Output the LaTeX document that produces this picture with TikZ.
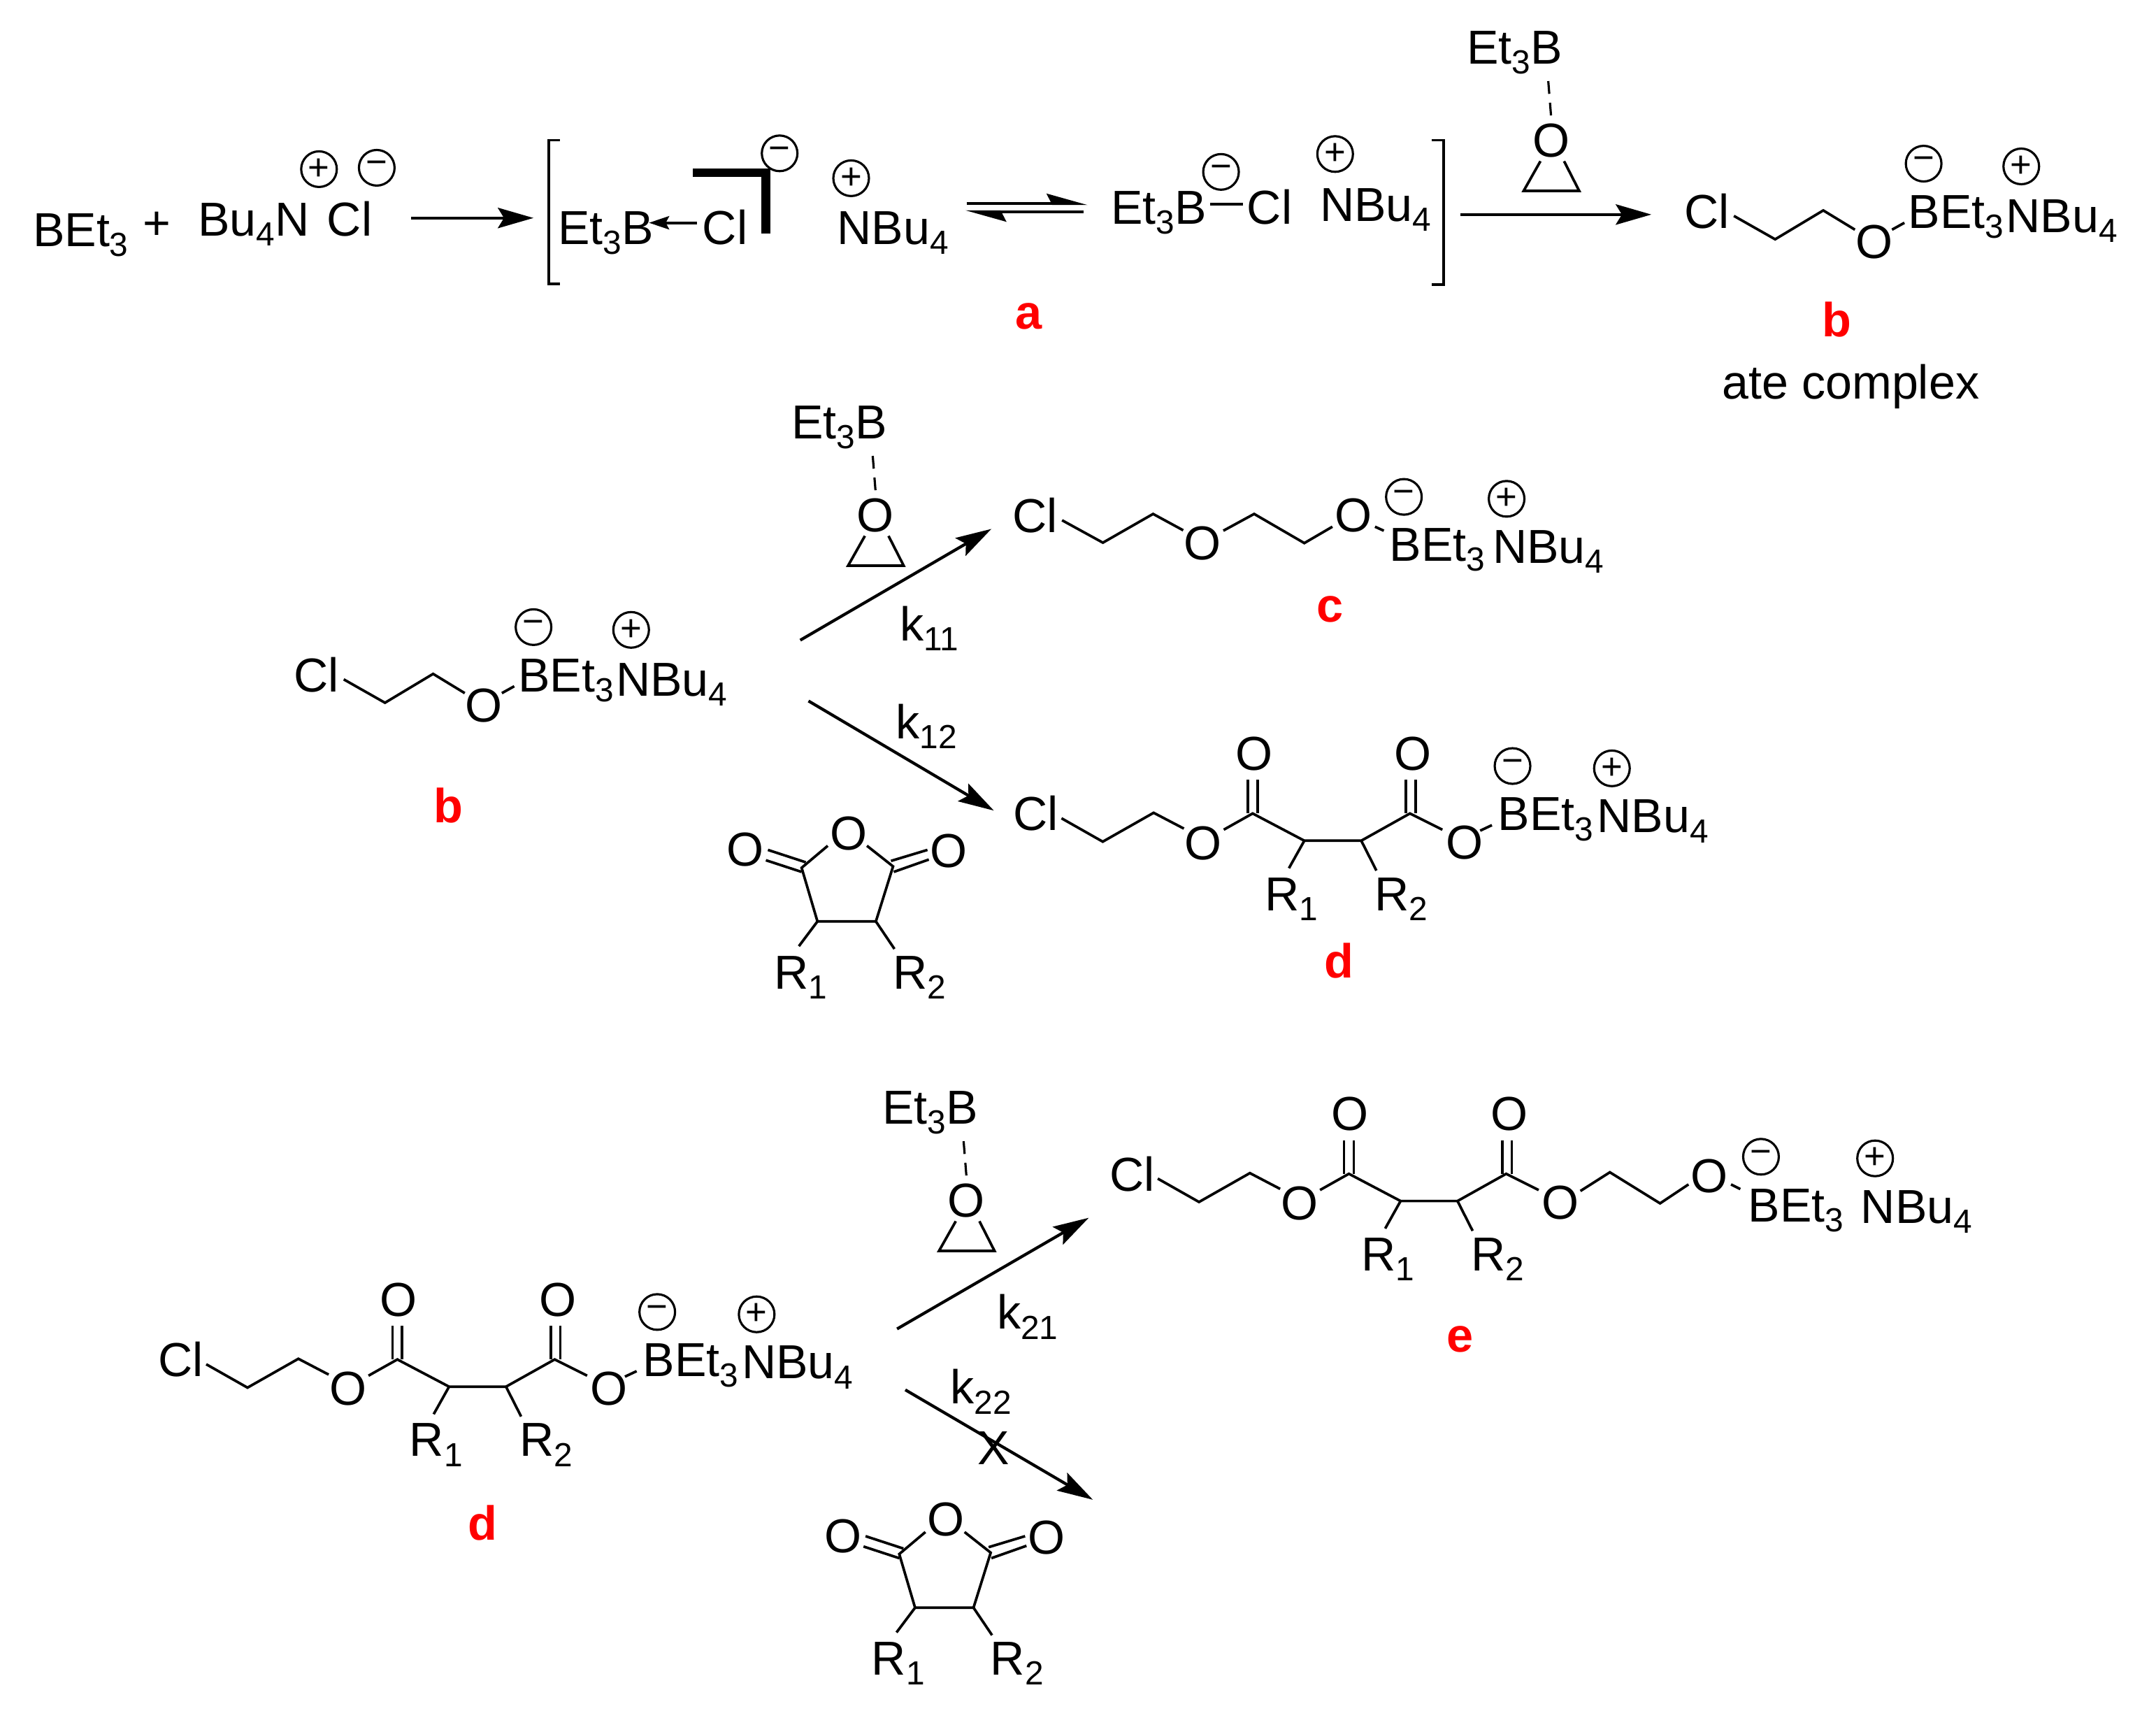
\documentclass[tikz,border=0pt]{standalone}
\usepackage{fontspec}
\setmainfont{Liberation Sans}
\usetikzlibrary{arrows.meta}
\newcommand{\dn}[1]{\raisebox{-0.21em}{\fontsize{13.6}{13.6}\selectfont #1}}
\newcommand{\cdef}[2]{\coordinate (-#1) at (#2);}
\definecolor{lblred}{RGB}{255,0,0}
\tikzset{
  txt/.style={inner sep=0pt,anchor=base west,xshift=-0.8pt,font=\fontsize{19.4}{20}\selectfont},
  oxy/.style={inner sep=0pt,anchor=center,font=\fontsize{19.4}{20}\selectfont},
  chg/.style={circle,draw,line width=0.9pt,minimum size=14.5pt,inner sep=0pt,font=\fontsize{15}{15}\selectfont},
  lbl/.style={inner sep=0pt,anchor=base,text=lblred,font=\fontsize{19.5}{20}\selectfont\bfseries},
  bond/.style={line width=1.05pt},
  rxn/.style={line width=1.2pt,-{Stealth[length=14.5pt,width=8.3pt,inset=2.5pt]}},
  pics/chlorate/.style={code={
    \node[txt] (-Cl) at (0,0) {Cl};
    \cdef{a}{35,-9}\cdef{b}{65,8}\cdef{c}{100,-13}\cdef{d}{123,1}
    \draw[bond] (-a) -- (-b) -- (-c) -- (-d);
    \node[oxy] (-O) at (137,10) {O};
    \cdef{e}{150,1}\cdef{f}{159,-4}
    \draw[bond] (-e) -- (-f);
    \node[txt] (-B) at (163,0) {BEt\dn{3}};
    \node[txt] (-N) at (234,3) {NBu\dn{4}};
    \node[chg] (-m) at (173,-47) {−};
    \node[chg] (-p) at (244,-45) {+};
  }},
  pics/epox/.style={code={
    \node[txt] (-B) at (-60,-55.5) {Et\dn{3}B};
    \node[oxy] (-O) at (0,0) {O};
    \cdef{d1}{-2,-43}\cdef{d2}{0,-18}
    \draw[line width=0.9pt,dash pattern=on 5.2pt off 3.6pt] (-d1) -- (-d2);
    \cdef{a}{-7.7,15.2}\cdef{b}{-19.9,36.8}\cdef{c}{20.5,36.8}\cdef{d}{9.5,15.2}
    \draw[bond] (-a) -- (-b) -- (-c) -- (-d);
  }},
  pics/anhyd/.style={code={
    \node[oxy] (-O) at (0,0) {O};
    \node[oxy] (-Ol) at (-75,12) {O};
    \node[oxy] (-Or) at (73,13) {O};
    \cdef{c1}{-34,25}\cdef{c2}{-22.5,64}\cdef{c3}{20,64}\cdef{c4}{32.5,24}
    \cdef{ol}{-15,9}\cdef{or}{13.5,9}
    \draw[bond] (-ol) -- (-c1) -- (-c2) -- (-c3) -- (-c4) -- (-or);
    \cdef{l1}{-58.5,12}\cdef{l2}{-31,21}\cdef{l3}{-60,19.5}\cdef{l4}{-34,28}
    \draw[bond] (-l1) -- (-l2); \draw[bond] (-l3) -- (-l4);
    \cdef{r1}{57.5,12}\cdef{r2}{31,20}\cdef{r3}{58.5,19}\cdef{r4}{33,28}
    \draw[bond] (-r1) -- (-r2); \draw[bond] (-r3) -- (-r4);
    \cdef{s1}{-36,82}\cdef{s2}{33.5,84}
    \draw[bond] (-c2) -- (-s1); \draw[bond] (-c3) -- (-s2);
    \node[txt] (-R1) at (-53,113) {R\dn{1}};
    \node[txt] (-R2) at (33.5,113) {R\dn{2}};
  }},
  pics/succ/.style={code={
    \node[txt] (-Cl) at (0,0) {Cl};
    \cdef{a}{34,-9}\cdef{b}{64,8}\cdef{c}{101,-13}\cdef{d}{123,-1.5}
    \draw[bond] (-a) -- (-b) -- (-c) -- (-d);
    \node[oxy] (-O1) at (137,9) {O};
    \cdef{e}{152,-0.7}\cdef{f}{173,-12.5}\cdef{g}{210.6,7.3}\cdef{h}{252,7.3}\cdef{i}{287.4,-12.5}\cdef{j}{311,-0.7}
    \draw[bond] (-e) -- (-f) -- (-g) -- (-h) -- (-i) -- (-j);
    \node[oxy] (-Ot1) at (174,-56) {O};
    \node[oxy] (-Ot2) at (289.5,-56) {O};
    \cdef{k1}{169.5,-37}\cdef{k2}{169.5,-12.5}\cdef{k3}{176.5,-37}\cdef{k4}{176.5,-12.5}
    \draw[bond] (-k1) -- (-k2); \draw[bond] (-k3) -- (-k4);
    \cdef{m1}{284.5,-37}\cdef{m2}{284.5,-12.5}\cdef{m3}{291.5,-37}\cdef{m4}{291.5,-12.5}
    \draw[bond] (-m1) -- (-m2); \draw[bond] (-m3) -- (-m4);
    \cdef{s1}{199.4,27.3}\cdef{s2}{263,29}
    \draw[bond] (-g) -- (-s1); \draw[bond] (-h) -- (-s2);
    \node[txt] (-R1) at (183,58) {R\dn{1}};
    \node[txt] (-R2) at (263,58) {R\dn{2}};
    \node[oxy] (-O2) at (327,8.6) {O};
  }},
  pics/dtail/.style={code={
    \cdef{a}{338.5,0}\cdef{b}{347,-4}
    \draw[bond] (-a) -- (-b);
    \node[txt] (-B) at (352.6,0) {BEt\dn{3}};
    \node[txt] (-N) at (424.6,1.5) {NBu\dn{4}};
    \node[chg] (-m) at (362,-47) {−};
    \node[chg] (-p) at (434.3,-45.3) {+};
  }},
}
\begin{document}
\begin{tikzpicture}[x=0.01967cm,y=-0.01967cm]
\useasboundingbox (0,0) rectangle (1568,1244);
% --- row 1
\node[txt] (bet) at (25,179) {BEt\dn{3}};
\node[inner sep=0pt,font=\fontsize{19.4}{20}\selectfont] (plus) at (114,164) {+};
\node[txt] (bun) at (145,171.5) {Bu\dn{4}N};
\node[txt] (cl0) at (239,171.5) {Cl};
\node[chg] (p0) at (232,123) {+};
\node[chg] (m0) at (274,122) {−};
\coordinate (a1s) at (299,158.5); \coordinate (a1e) at (388,158.5);
\draw[rxn] (a1s) -- (a1e);
\coordinate (bl1) at (407,102); \coordinate (bl2) at (399,102); \coordinate (bl3) at (399,206.5); \coordinate (bl4) at (407,206.5);
\draw[bond] (bl1) -- (bl2) -- (bl3) -- (bl4);
\node[txt] (et1) at (407,177.6) {Et\dn{3}B};
\node[txt] (cl1) at (512,177.6) {Cl};
\coordinate (d1s) at (507,162); \coordinate (d1e) at (472,162);
\draw[line width=1.1pt,-{Stealth[length=8.2pt,width=5.4pt,inset=1.4pt]}] (d1s) -- (d1e);
\coordinate (th1) at (504,125.6); \coordinate (th2) at (557,125.6); \coordinate (th3) at (557,170);
\draw[line width=3.5pt,miter limit=10] (th1) -- (th2) -- (th3);
\node[chg] (m1) at (567,111.5) {−};
\node[chg] (p1) at (619,129.6) {+};
\node[txt] (nb1) at (610,177.6) {NBu\dn{4}};
\coordinate (e1) at (703,148); \coordinate (e2) at (791,148);
\coordinate (e3) at (788,154); \coordinate (e4) at (702,154);
\draw[line width=1.2pt,-{Stealth[harpoon,length=14.5pt,width=8pt,inset=2pt]}] (e1) -- (e2);
\draw[line width=1.2pt,-{Stealth[harpoon,length=14.5pt,width=8pt,inset=2pt]}] (e3) -- (e4);
\node[txt] (et2) at (809,163) {Et\dn{3}B};
\coordinate (b2s) at (880,148.6); \coordinate (b2e) at (904,148.6);
\draw[bond] (b2s) -- (b2e);
\node[txt] (cl2) at (908,163) {Cl};
\node[chg] (m2) at (888,125) {−};
\node[chg] (p2) at (971,112) {+};
\node[txt] (nb2) at (961,161) {NBu\dn{4}};
\coordinate (br1) at (1041,102); \coordinate (br2) at (1050,102); \coordinate (br3) at (1050,207); \coordinate (br4) at (1041,207);
\draw[bond] (br1) -- (br2) -- (br3) -- (br4);
\coordinate (a2s) at (1062,156); \coordinate (a2e) at (1201,156);
\draw[rxn] (a2s) -- (a2e);
\pic (ep1) at (1128,102) {epox};
\pic (b1) at (1226,166) {chlorate};
\node[lbl] (la) at (748,239) {a};
\node[lbl] (lb1) at (1336,245) {b};
\node[inner sep=0pt,anchor=base,font=\fontsize{19.4}{20}\selectfont] (ate) at (1346,290) {ate complex};
% --- row 2
\pic (b2) at (215,503) {chlorate};
\node[lbl] (lb2) at (326,598) {b};
\pic (ep2) at (636.7,374.5) {epox};
\coordinate (k11s) at (582,465.5); \coordinate (k11e) at (721,384.6);
\draw[rxn] (k11s) -- (k11e);
\node[txt] (k11) at (655.5,466) {k\dn{11}};
\coordinate (k12s) at (588,509.7); \coordinate (k12e) at (722.8,589.4);
\draw[rxn] (k12s) -- (k12e);
\node[txt] (k12) at (652.8,537.2) {k\dn{12}};
% product c
\node[txt] (cCl) at (737.3,387.3) {Cl};
\coordinate (c1) at (772.4,378.3); \coordinate (c2) at (802.1,394.6); \coordinate (c3) at (838.6,373.7); \coordinate (c4) at (860.5,385.6);
\draw[bond] (c1) -- (c2) -- (c3) -- (c4);
\node[oxy] (cO1) at (874.5,395.2) {O};
\coordinate (c5) at (889.7,385.9); \coordinate (c6) at (912.1,373.7); \coordinate (c7) at (948.6,394.9); \coordinate (c8) at (969,383);
\draw[bond] (c5) -- (c6) -- (c7) -- (c8);
\node[oxy] (cO2) at (984.5,374.5) {O};
\coordinate (c9) at (1000,383); \coordinate (c10) at (1006.4,385.9);
\draw[bond] (c9) -- (c10);
\node[txt] (cB) at (1011.6,408.1) {BEt\dn{3}};
\node[txt] (cN) at (1086.6,409.3) {NBu\dn{4}};
\node[chg] (cm) at (1021,361.3) {−};
\node[chg] (cp) at (1095.7,362.7) {+};
\node[lbl] (lc) at (967.3,452.5) {c};
% product d (row 2)
\pic (d1) at (738,604) {succ};
\pic (d1t) at (738,604) {dtail};
\node[lbl] (ld1) at (974,711) {d};
\pic (an1) at (617,606) {anhyd};
% --- row 3
\pic (d2) at (116,1001) {succ};
\pic (d2t) at (116,1001) {dtail};
\node[lbl] (ld2) at (351,1120) {d};
\pic (ep3) at (702.8,872.8) {epox};
\coordinate (k21s) at (652.4,966.3); \coordinate (k21e) at (791.8,885.5);
\draw[rxn] (k21s) -- (k21e);
\node[txt] (k21) at (726.2,966.5) {k\dn{21}};
\coordinate (k22s) at (658.4,1010.6); \coordinate (k22e) at (794.8,1090.5);
\draw[rxn] (k22s) -- (k22e);
\node[txt] (k22) at (692.2,1020.9) {k\dn{22}};
\node[inner sep=0pt,anchor=base,font=\fontsize{19.4}{20}\selectfont] (xx) at (722.8,1064.8) {X};
\pic (an2) at (688,1105) {anhyd};
% product e
\pic (e) at (808,866) {succ};
\coordinate (f1) at (1149.4,866); \coordinate (f2) at (1170.8,852.4); \coordinate (f3) at (1207.3,875); \coordinate (f4) at (1228,861.2);
\draw[bond] (f1) -- (f2) -- (f3) -- (f4);
\node[oxy] (eO3) at (1243.3,855) {O};
\coordinate (f5) at (1258.9,861.2); \coordinate (f6) at (1265.7,864.6);
\draw[bond] (f5) -- (f6);
\node[txt] (eB) at (1272.5,888.4) {BEt\dn{3}};
\node[txt] (eN) at (1354.4,889.4) {NBu\dn{4}};
\node[chg] (em) at (1280.7,841.1) {−};
\node[chg] (ep) at (1363.7,842.3) {+};
\node[lbl] (le) at (1062,983) {e};
\end{tikzpicture}
\end{document}
